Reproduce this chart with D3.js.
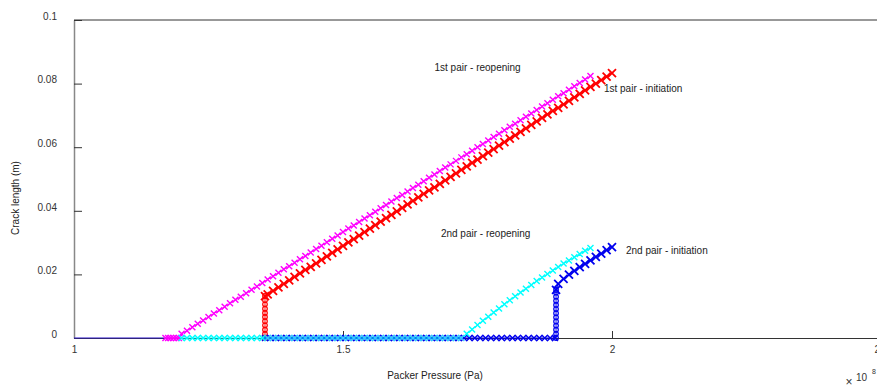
<!DOCTYPE html>
<html>
<head>
<meta charset="utf-8">
<script src="https://cdn.jsdelivr.net/npm/d3@7"></script>
<style>
  body { margin: 0; background: #fff; }
  text { font-family: "Liberation Sans", Arial, sans-serif; }
</style>
</head>
<body>
<div id="chart"></div>
<script>
// Crack length (m) vs packer pressure (x 1e8 Pa)
var xTicks = [1, 1.5, 2, 2.5];
var yTicks = [0, 0.02, 0.04, 0.06, 0.08, 0.1];

// 1st pair - reopening (magenta)
var reopen1 = [[1.17,0],[1.175,0],[1.18,0],[1.185,0],[1.19,0],[1.195,0],
  [1.20,0.0013],[1.21,0.0023],[1.22,0.0034],[1.23,0.0045],[1.24,0.0055],[1.25,0.0066],[1.26,0.0077],[1.27,0.0087],[1.28,0.0098],[1.29,0.0109],
  [1.30,0.0120],[1.31,0.0130],[1.32,0.0141],[1.33,0.0152],[1.34,0.0162],[1.35,0.0173],[1.36,0.0184],[1.37,0.0194],[1.38,0.0205],[1.39,0.0216],
  [1.40,0.0226],[1.41,0.0237],[1.42,0.0248],[1.43,0.0258],[1.44,0.0269],[1.45,0.0280],[1.46,0.0290],[1.47,0.0301],[1.48,0.0312],[1.49,0.0322],
  [1.50,0.0333],[1.51,0.0344],[1.52,0.0354],[1.53,0.0365],[1.54,0.0376],[1.55,0.0386],[1.56,0.0397],[1.57,0.0408],[1.58,0.0418],[1.59,0.0429],
  [1.60,0.0440],[1.61,0.0450],[1.62,0.0461],[1.63,0.0472],[1.64,0.0482],[1.65,0.0493],[1.66,0.0504],[1.67,0.0514],[1.68,0.0525],[1.69,0.0536],
  [1.70,0.0546],[1.71,0.0557],[1.72,0.0568],[1.73,0.0578],[1.74,0.0589],[1.75,0.0600],[1.76,0.0610],[1.77,0.0621],[1.78,0.0632],[1.79,0.0642],
  [1.80,0.0653],[1.81,0.0664],[1.82,0.0674],[1.83,0.0685],[1.84,0.0696],[1.85,0.0706],[1.86,0.0717],[1.87,0.0728],[1.88,0.0738],[1.89,0.0749],
  [1.90,0.0760],[1.91,0.0770],[1.92,0.0781],[1.93,0.0792],[1.94,0.0802],[1.95,0.0813],[1.96,0.0824]];

// 1st pair - initiation (red): vertical jump drawn with circles, then crosses
var init1Jump = [[1.355,0],[1.355,0.0013],[1.355,0.0026],[1.355,0.0040],[1.355,0.0053],[1.355,0.0066],[1.355,0.0079],[1.355,0.0092],[1.355,0.0106],[1.355,0.0119],[1.355,0.0132]];
var init1 = [[1.355,0.0132],[1.36,0.0137],[1.37,0.0148],[1.38,0.0159],[1.39,0.0170],
  [1.40,0.0181],[1.41,0.0192],[1.42,0.0203],[1.43,0.0214],[1.44,0.0224],[1.45,0.0235],[1.46,0.0246],[1.47,0.0257],[1.48,0.0268],[1.49,0.0279],
  [1.50,0.0290],[1.51,0.0301],[1.52,0.0311],[1.53,0.0322],[1.54,0.0333],[1.55,0.0344],[1.56,0.0355],[1.57,0.0366],[1.58,0.0377],[1.59,0.0387],
  [1.60,0.0398],[1.61,0.0409],[1.62,0.0420],[1.63,0.0431],[1.64,0.0442],[1.65,0.0453],[1.66,0.0464],[1.67,0.0474],[1.68,0.0485],[1.69,0.0496],
  [1.70,0.0507],[1.71,0.0518],[1.72,0.0529],[1.73,0.0540],[1.74,0.0551],[1.75,0.0561],[1.76,0.0572],[1.77,0.0583],[1.78,0.0594],[1.79,0.0605],
  [1.80,0.0616],[1.81,0.0627],[1.82,0.0637],[1.83,0.0648],[1.84,0.0659],[1.85,0.0670],[1.86,0.0681],[1.87,0.0692],[1.88,0.0703],[1.89,0.0714],
  [1.90,0.0724],[1.91,0.0735],[1.92,0.0746],[1.93,0.0757],[1.94,0.0768],[1.95,0.0779],[1.96,0.0790],[1.97,0.0800],[1.98,0.0811],[1.99,0.0822],[2.00,0.0833]];

// 2nd pair - initiation (blue)
var init2Base = [[1.355,0],[1.365,0],[1.375,0],[1.385,0],[1.395,0],[1.405,0],[1.415,0],[1.425,0],[1.435,0],[1.445,0],
  [1.455,0],[1.465,0],[1.475,0],[1.485,0],[1.495,0],[1.505,0],[1.515,0],[1.525,0],[1.535,0],[1.545,0],
  [1.555,0],[1.565,0],[1.575,0],[1.585,0],[1.595,0],[1.605,0],[1.615,0],[1.625,0],[1.635,0],[1.645,0],
  [1.655,0],[1.665,0],[1.675,0],[1.685,0],[1.695,0],[1.705,0],[1.715,0],[1.725,0],[1.735,0],[1.745,0],
  [1.755,0],[1.765,0],[1.775,0],[1.785,0],[1.795,0],[1.805,0],[1.815,0],[1.825,0],[1.835,0],[1.845,0],
  [1.855,0],[1.865,0],[1.875,0],[1.885,0],[1.894,0]];
var init2Jump = [[1.896,0],[1.896,0.0013],[1.896,0.0026],[1.896,0.0039],[1.896,0.0052],[1.896,0.0065],[1.896,0.0078],[1.896,0.0091],[1.896,0.0104],[1.896,0.0117],[1.896,0.0130],[1.896,0.0143],[1.896,0.0151]];
var init2 = [[1.896,0.0151],[1.90,0.0170],[1.91,0.0186],[1.92,0.0199],[1.93,0.0211],[1.94,0.0223],[1.95,0.0233],[1.96,0.0244],[1.97,0.0255],[1.98,0.0265],[1.99,0.0276],[2.00,0.0286]];

// 2nd pair - reopening (cyan)
var reopen2 = [[1.20,0],[1.21,0],[1.22,0],[1.23,0],[1.24,0],[1.25,0],[1.26,0],[1.27,0],[1.28,0],[1.29,0],
  [1.30,0],[1.31,0],[1.32,0],[1.33,0],[1.34,0],[1.35,0],[1.36,0],[1.37,0],[1.38,0],[1.39,0],
  [1.40,0],[1.41,0],[1.42,0],[1.43,0],[1.44,0],[1.45,0],[1.46,0],[1.47,0],[1.48,0],[1.49,0],
  [1.50,0],[1.51,0],[1.52,0],[1.53,0],[1.54,0],[1.55,0],[1.56,0],[1.57,0],[1.58,0],[1.59,0],
  [1.60,0],[1.61,0],[1.62,0],[1.63,0],[1.64,0],[1.65,0],[1.66,0],[1.67,0],[1.68,0],[1.69,0],
  [1.70,0],[1.71,0],[1.72,0],
  [1.73,0.0013],[1.74,0.0027],[1.75,0.0041],[1.76,0.0054],[1.77,0.0067],[1.78,0.0080],[1.79,0.0093],
  [1.80,0.0106],[1.81,0.0119],[1.82,0.0131],[1.83,0.0143],[1.84,0.0155],[1.85,0.0167],[1.86,0.0179],[1.87,0.0190],[1.88,0.0201],[1.89,0.0212],
  [1.90,0.0223],[1.91,0.0234],[1.92,0.0244],[1.93,0.0254],[1.94,0.0264],[1.95,0.0274],[1.96,0.0283]];

// line along zero before any crack opens
var zeroLine = [[1.0,0],[1.17,0]];

var labels = [
  {text: "1st pair - reopening", x: 1.67, y: 0.0840},
  {text: "1st pair - initiation", x: 1.985, y: 0.0774},
  {text: "2nd pair - reopening", x: 1.682, y: 0.0318},
  {text: "2nd pair - initiation", x: 2.026, y: 0.0264}
];

var w = 877, h = 389;

var x = d3.scaleLinear().domain([1, 2.5]).range([74, 881]);
var y = d3.scaleLinear().domain([0, 0.1]).range([338, 20]);

var svg = d3.select("#chart")
    .append("svg")
    .attr("width", w)
    .attr("height", h)
    .style("background", "#fff");

// frame top line
svg.append("line")
    .attr("x1", x(1)).attr("x2", w)
    .attr("y1", y(0.1)).attr("y2", y(0.1))
    .attr("stroke", "#333").attr("stroke-width", 1);

// x axis
var xAxis = svg.append("g")
    .attr("transform", "translate(0," + y(0) + ")")
    .call(d3.axisBottom(x).tickValues(xTicks).tickSize(-7).tickSizeOuter(0).tickPadding(8)
        .tickFormat(d3.format("")));
xAxis.select(".domain").attr("stroke", "#333").attr("stroke-width", 1.2);
xAxis.selectAll(".tick line").attr("stroke", "#333");
xAxis.selectAll("text").attr("fill", "#333").style("font-size", "10px");

// y axis
var yAxis = svg.append("g")
    .attr("transform", "translate(" + x(1) + ",0)")
    .call(d3.axisLeft(y).tickValues(yTicks).tickSize(-8).tickSizeOuter(0).tickPadding(17)
        .tickFormat(d3.format("")));
yAxis.select(".domain").attr("stroke", "#888").attr("stroke-width", 1.5);
yAxis.selectAll(".tick line").attr("stroke", "#333");
yAxis.selectAll("text").attr("fill", "#333").attr("dy", "-0.08em").style("font-size", "10px");

// axis titles
svg.append("text")
    .attr("x", 435).attr("y", 379)
    .attr("text-anchor", "middle")
    .style("font-size", "10px").attr("fill", "#222")
    .text("Packer Pressure (Pa)");

svg.append("text")
    .attr("transform", "translate(19,198) rotate(-90)")
    .attr("text-anchor", "middle")
    .style("font-size", "10px").attr("fill", "#222")
    .text("Crack length (m)");

// exponent
svg.append("text").attr("x", 849).attr("y", 386).attr("text-anchor", "middle")
    .style("font-size", "12px").attr("fill", "#333").text("\u00d7");
svg.append("text").attr("x", 856).attr("y", 381)
    .style("font-size", "10px").attr("fill", "#333").text("10");
svg.append("text").attr("x", 872).attr("y", 374)
    .style("font-size", "7px").attr("fill", "#333").text("8");

var line = d3.line().x(d => x(d[0])).y(d => y(d[1]));

function drawLine(data, color) {
    svg.append("path")
        .datum(data)
        .attr("d", line)
        .attr("fill", "none")
        .attr("stroke", color)
        .attr("stroke-width", 1);
}

function drawCrosses(data, color, s, sw) {
    svg.append("g").selectAll("path")
        .data(data)
        .enter()
        .append("path")
        .attr("d", d => {
            var cx = x(d[0]), cy = y(d[1]);
            return "M" + (cx - s) + "," + (cy - s) + "L" + (cx + s) + "," + (cy + s) +
                "M" + (cx - s) + "," + (cy + s) + "L" + (cx + s) + "," + (cy - s);
        })
        .attr("stroke", color)
        .attr("stroke-width", sw)
        .attr("fill", "none");
}

function drawCircles(data, color, r) {
    svg.append("g").selectAll("circle")
        .data(data)
        .enter()
        .append("circle")
        .attr("cx", d => x(d[0]))
        .attr("cy", d => y(d[1]))
        .attr("r", r)
        .attr("fill", "none")
        .attr("stroke", color)
        .attr("stroke-width", 1.2);
}

drawLine(zeroLine, "#2a14c8");

// red
drawLine(init1Jump, "#ff0000");
drawCircles(init1Jump, "#ff0000", 2.3);
drawLine(init1, "#ff0000");
drawCrosses(init1, "#ff0000", 4, 1.8);

// magenta
drawLine(reopen1, "#ff00ff");
drawCrosses(reopen1, "#ff00ff", 3, 1.4);

// blue
drawLine(init2Base, "#0000ee");
drawCrosses(init2Base, "#0000ee", 3, 1.4);
drawLine(init2Jump, "#0000ee");
drawCircles(init2Jump, "#0000ee", 2.3);
drawLine(init2, "#0000ee");
drawCrosses(init2, "#0000ee", 4, 1.8);

// cyan
drawLine(reopen2, "#00ffff");
drawCrosses(reopen2.filter(d => d[0] < 1.36 || d[0] > 1.72), "#00ffff", 3, 1.4);
drawCrosses(reopen2.filter(d => d[0] >= 1.36 && d[0] <= 1.72), "#33ccff", 3, 1.4);

// series labels
svg.append("g").selectAll("text")
    .data(labels)
    .enter()
    .append("text")
    .attr("x", d => x(d.x))
    .attr("y", d => y(d.y))
    .style("font-size", "10px")
    .attr("fill", "#222")
    .text(d => d.text);
</script>
</body>
</html>
